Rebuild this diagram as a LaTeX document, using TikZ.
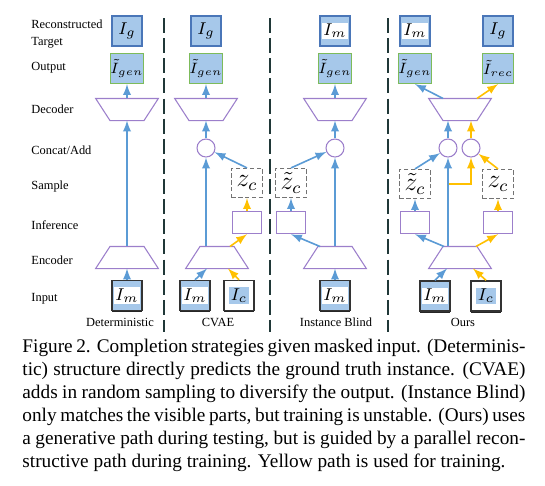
\documentclass[tikz,border=0pt]{standalone}
\usepackage{amsmath}
\usepackage{fontspec}
\setmainfont{Liberation Serif}
\usepackage{tikz}
\usetikzlibrary{arrows,positioning,calc,shapes.geometric,shadows}
\definecolor{netblue}{RGB}{91,155,213}
\definecolor{netyellow}{RGB}{255,192,0}
\definecolor{netpurple}{RGB}{156,127,203}
\definecolor{boxfill}{RGB}{166,200,234}
\definecolor{boxedge}{RGB}{74,118,184}
\definecolor{outedge}{RGB}{125,187,90}
\definecolor{sepcol}{RGB}{32,56,56}
\tikzset{font=\fontsize{5.8}{6.5}\selectfont}
\tikzset{every node/.append style={transform shape=false}}
\setlength{\fboxsep}{0.7pt}

\begin{document}
\begin{tikzpicture}[x=0.467pt,y=-0.467pt,
  img/.style={draw=boxedge,fill=boxfill,line width=0.6pt,minimum size=14pt,inner sep=0pt,font=\fontsize{8}{9}\selectfont},
  outbox/.style={img,draw=outedge,font=\fontsize{7.5}{8}\selectfont},
  inbox/.style={img,draw=black!80,line width=0.7pt,drop shadow={shadow xshift=0pt,shadow yshift=-0.7pt,fill=black!85,opacity=1}},
  condbox/.style={inbox,fill=white},
  enc/.style={trapezium,trapezium angle=57,draw=netpurple,line width=0.5pt,minimum width=0pt,minimum height=0pt,inner xsep=7.95pt,inner ysep=5.15pt,outer sep=0pt},
  dec/.style={enc,shape border rotate=180},
  infbox/.style={draw=netpurple,line width=0.5pt,fill=white,minimum width=13.5pt,minimum height=10.5pt,inner sep=0pt},
  zbox/.style={draw=black!55,dash pattern=on 2pt off 1.2pt,line width=0.6pt,minimum width=14.5pt,minimum height=13.5pt,inner sep=0pt,font=\fontsize{12}{12}\selectfont},
  merge/.style={circle,draw=netpurple,line width=0.5pt,minimum size=8.4pt,inner sep=0pt},
  blu/.style={-latex,draw=netblue,line width=0.75pt},
  yel/.style={blu,draw=netyellow},
  sep/.style={draw=sepcol,line width=1pt,dash pattern=on 7pt off 2.4pt}]
  \useasboundingbox (0,0) rectangle (545,485);

  % row and column labels
  \node[anchor=west,align=left,inner sep=0pt,font=\fontsize{5.8}{7.5}\selectfont] (row0) at (31,34) {Reconstructed\\Target};
  \foreach \y/\t [count=\i] in {68/Output,109/Decoder,150/{Concat/Add},187/Sample,225/Inference,260/Encoder,299/Input}
    \node[anchor=west,inner sep=0pt] (row\i) at (31,\y) {\t};
  \foreach \x/\t [count=\i] in {120/Deterministic,218/CVAE,336/Instance Blind,463/Ours}
    \node[inner sep=0pt] (col\i) at (\x,322) {\t};
  \foreach \x [count=\i] in {164,270,388}{
    \coordinate (s\i) at (\x,18);
    \coordinate (e\i) at (\x,332);
    \draw[sep] (s\i) -- (e\i);
  }

  % deterministic
  \node[img] (tg1) at (127,31) {$I_g$};
  \node[outbox] (og1) at (127,68.5) {$\tilde{I}_{gen}$};
  \node[dec] (dec1) at (127,109.5) {};
  \node[enc] (enc1) at (127,257.5) {};
  \node[inbox] (im1) at (127,295.5) {\colorbox{white}{$I_m$}};
  \draw[blu] (im1.north) -- (enc1.south);
  \draw[blu] (enc1.north) -- (dec1.south);
  \draw[blu] (dec1.north) -- (og1.south);

  % CVAE
  \node[img] (tg2) at (206,31) {$I_g$};
  \node[outbox] (og2) at (206,68.5) {$\tilde{I}_{gen}$};
  \node[dec] (dec2) at (206,109.5) {};
  \node[merge] (mg2) at (206,148) {};
  \node[zbox] (z2) at (247,183) {$z_c$};
  \node[infbox] (inf2) at (247,222.5) {};
  \node[enc] (enc2) at (217,257.5) {};
  \node[inbox] (im2) at (195,295.5) {\colorbox{white}{$I_m$}};
  \node[condbox] (ic2) at (239,295.5) {\colorbox{boxfill}{$I_c$}};
  \draw[blu] (im2.north) -- ($(enc2.south)+(-10,0)$);
  \draw[yel] (ic2.north) -- ($(enc2.south)+(11,0)$);
  \draw[blu] (mg2.south |- enc2.north) -- (mg2.south);
  \draw[yel] ($(enc2.north)+(13,0)$) -- (inf2.south);
  \draw[yel] (inf2.north) -- (z2.south);
  \draw[blu] (z2.north) -- (mg2);
  \draw[blu] (mg2.north) -- (dec2.south);
  \draw[blu] (dec2.north) -- (og2.south);

  % instance blind
  \node[img] (tg3) at (335,31) {\colorbox{white}{$I_m$}};
  \node[outbox] (og3) at (335,68.5) {$\tilde{I}_{gen}$};
  \node[dec] (dec3) at (335,109.5) {};
  \node[merge] (mg3) at (335,148) {};
  \node[zbox] (z3) at (291,183) {$\tilde{z}_c$};
  \node[infbox] (inf3) at (291,222.5) {};
  \node[enc] (enc3) at (335,257.5) {};
  \node[inbox] (im3) at (335,295.5) {\colorbox{white}{$I_m$}};
  \draw[blu] (im3.north) -- (enc3.south);
  \draw[blu] ($(enc3.north)+(-15,0)$) -- (inf3.south);
  \draw[blu] (enc3.north) -- (mg3.south);
  \draw[blu] (inf3.north) -- (z3.south);
  \draw[blu] (z3.north) -- (mg3);
  \draw[blu] (mg3.north) -- (dec3.south);
  \draw[blu] (dec3.north) -- (og3.south);

  % ours
  \node[img] (tg4) at (415,31) {\colorbox{white}{$I_m$}};
  \node[img] (tg5) at (498,31) {$I_g$};
  \node[outbox] (og4) at (415,68.5) {$\tilde{I}_{gen}$};
  \node[outbox] (og5) at (498,68.5) {$\tilde{I}_{rec}$};
  \node[dec] (dec4) at (460,109.5) {};
  \node[merge] (mg4) at (448,148) {};
  \node[merge] (mg5) at (471,148) {};
  \node[zbox] (z4) at (415,184) {$\tilde{z}_c$};
  \node[zbox] (z5) at (498,184) {$z_c$};
  \node[infbox] (inf4) at (415,222.5) {};
  \node[infbox] (inf5) at (498,222.5) {};
  \node[enc] (enc4) at (460,257.5) {};
  \node[inbox] (im4) at (435,296) {\colorbox{white}{$I_m$}};
  \node[condbox] (ic4) at (486,296) {\colorbox{boxfill}{$I_c$}};
  \draw[blu] (im4.north) -- ($(enc4.south)+(-13,0)$);
  \draw[yel] (ic4.north) -- ($(enc4.south)+(13,0)$);
  \draw[blu] ($(enc4.north)+(-16,0)$) -- (inf4.south);
  \draw[yel] ($(enc4.north)+(16,0)$) -- (inf5.south);
  \coordinate (br4) at (mg4.south |- z4.center);
  \draw[yel] (br4) -| (mg5.south);
  \draw[blu] (mg4.south |- enc4.north) -- (mg4.south);
  \draw[blu] (inf4.north) -- (z4.south);
  \draw[yel] (inf5.north) -- (z5.south);
  \draw[blu] (z4.north) -- (mg4);
  \draw[yel] (z5.north) -- (mg5);
  \draw[blu] (mg4.north) -- (mg4.north |- dec4.south);
  \draw[yel] (mg5.north) -- (mg5.north |- dec4.south);
  \draw[blu] ($(dec4.north)+(-17,0)$) -- (og4.south);
  \draw[yel] ($(dec4.north)+(17,0)$) -- (og5.south);

  % caption
  \node[anchor=north west,inner sep=0pt,text width=234.9pt,align=justify,font=\fontsize{9}{10.8}\selectfont] (cap) at (22,338.5)
    {Figure 2. Completion strategies given masked input. (Determinis-\linebreak tic) structure directly predicts the ground truth instance. (CVAE)\linebreak adds in random sampling to diversify the output. (Instance Blind)\linebreak only matches the visible parts, but training is unstable. (Ours) uses\linebreak a generative path during testing, but is guided by a parallel recon-\linebreak structive path during training. Yellow path is used for training.};
\end{tikzpicture}
\end{document}
